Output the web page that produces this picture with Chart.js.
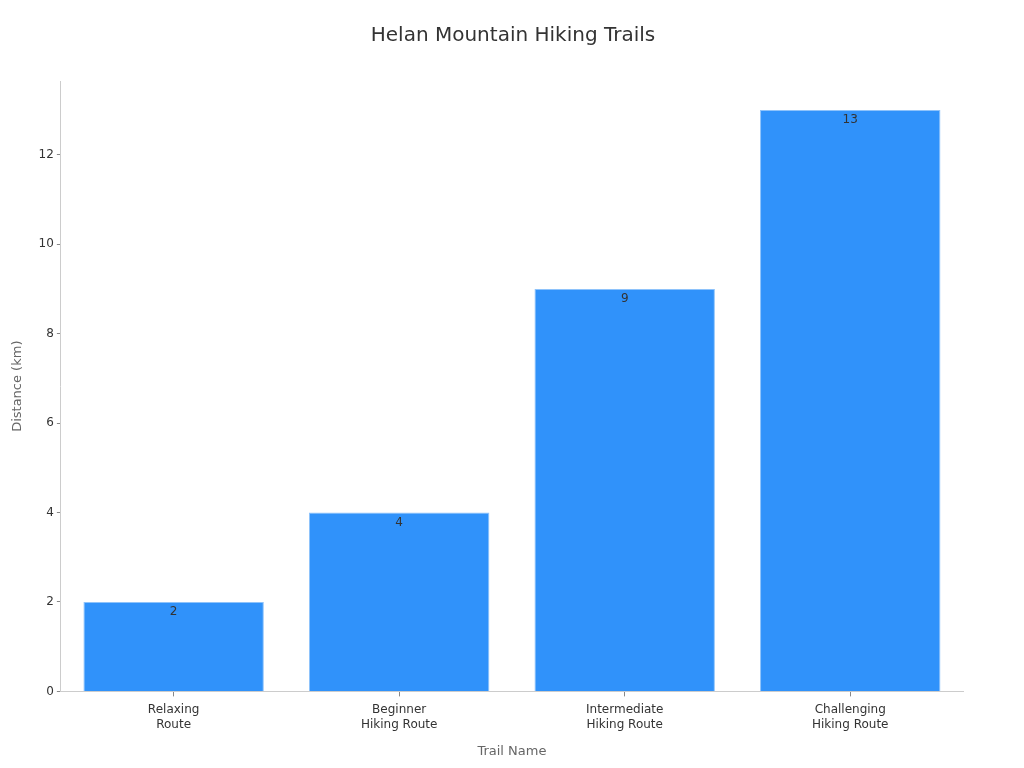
<!DOCTYPE html>
<html>
<head>
<meta charset="utf-8">
<script src="https://cdn.jsdelivr.net/npm/chart.js@4/dist/chart.umd.min.js"></script>
<style>
  html, body { margin: 0; padding: 0; background: #fff; }
  #wrap { width: 1024px; height: 768px; }
</style>
</head>
<body>
<div id="wrap"><canvas id="chart"></canvas></div>
<script>
const trails = [['Relaxing', 'Route'], ['Beginner', 'Hiking Route'], ['Intermediate', 'Hiking Route'], ['Challenging', 'Hiking Route']];
const distances = [2, 4, 9, 13];
const yTicks = [0, 2, 4, 6, 8, 10, 12];

Chart.defaults.font.family = 'DejaVu Sans, sans-serif';

// value labels just inside the top of each bar
const barLabels = {
  id: 'barLabels',
  afterDatasetsDraw(chart) {
    const ctx = chart.ctx;
    const meta = chart.getDatasetMeta(0);
    ctx.save();
    ctx.font = '12px DejaVu Sans, sans-serif';
    ctx.fillStyle = '#333';
    ctx.textAlign = 'center';
    ctx.textBaseline = 'top';
    meta.data.forEach((bar, i) => {
      ctx.fillText(String(distances[i]), bar.x, bar.y + 4);
    });
    ctx.restore();
  }
};

new Chart(document.getElementById('chart'), {
  type: 'bar',
  data: {
    labels: trails,
    datasets: [{
      data: distances,
      backgroundColor: '#3092FA',
      borderColor: '#8EC3FB',
      borderWidth: 1,
      categoryPercentage: 1,
      barPercentage: 0.8
    }]
  },
  options: {
    responsive: true,
    maintainAspectRatio: false,
    animation: false,
    layout: { padding: { top: 24, right: 4, bottom: 5, left: 6 } },
    plugins: {
      legend: { display: false },
      tooltip: { enabled: false },
      title: {
        display: true,
        text: 'Helan Mountain Hiking Trails',
        color: '#333',
        font: { size: 20, weight: 'normal' },
        padding: { top: 0, bottom: 33 }
      }
    },
    scales: {
      x: {
        border: { color: '#ccc' },
        grid: { display: true, offset: false, drawOnChartArea: false, drawTicks: true, tickLength: 5, color: '#888' },
        ticks: { color: '#333', font: { size: 12, lineHeight: 1.25 }, padding: 6 },
        title: { display: true, text: 'Trail Name', color: '#666', font: { size: 13 }, padding: { top: 5 } }
      },
      y: {
        min: 0,
        max: 13.65,
        afterBuildTicks(scale) { scale.ticks = yTicks.map(v => ({ value: v })); },
        border: { color: '#ccc' },
        grid: { display: true, drawOnChartArea: false, drawTicks: true, tickLength: 4, color: '#888' },
        ticks: { color: '#333', font: { size: 12 }, padding: 3 },
        title: { display: true, text: 'Distance (km)', color: '#666', font: { size: 13 }, padding: { bottom: 10 } }
      },
      // empty right-hand axis only to reserve the right margin
      yRight: {
        position: 'right',
        display: true,
        grid: { display: false },
        border: { display: false },
        ticks: { display: false },
        afterFit(scale) { scale.width = 57; }
      }
    }
  },
  plugins: [barLabels]
});
</script>
</body>
</html>
